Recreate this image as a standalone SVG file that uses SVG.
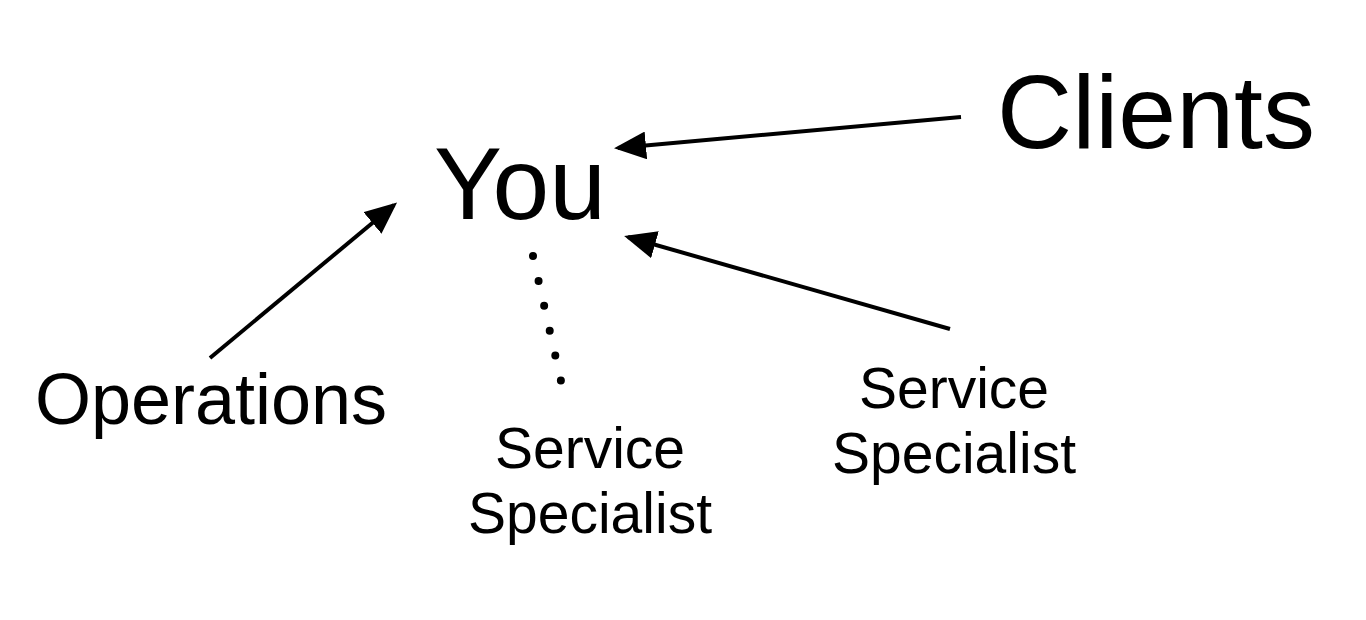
<svg xmlns="http://www.w3.org/2000/svg" width="1366" height="620" viewBox="0 0 1366 620">
<style>
text{font-family:"Liberation Sans",Arial,Helvetica,sans-serif;fill:#000}
.you{font-size:102px}
.cl{font-size:104px}
.mid{font-size:72px}
.sm{font-size:57px}
.arr{stroke:#000;stroke-width:4;fill:none}
.dot{stroke:#000;stroke-width:8;stroke-linecap:round;stroke-dasharray:0 25.5;fill:none}
</style>
<defs>
<marker id="ah" markerWidth="8" markerHeight="7" refX="7" refY="3.5" orient="auto" markerUnits="strokeWidth">
<path d="M0,0 L8,3.5 L0,7 Z" fill="#000"/>
</marker>
</defs>
<rect width="1366" height="620" fill="#fff"/>
<g id="connectors">
<line class="arr" x1="961" y1="117" x2="618" y2="148" marker-end="url(#ah)"/>
<line class="arr" x1="950" y1="329" x2="628" y2="237" marker-end="url(#ah)"/>
<line class="arr" x1="210" y1="358" x2="394" y2="205" marker-end="url(#ah)"/>
<line class="dot" x1="533" y1="256" x2="561" y2="381"/>
</g>
<g id="you"><text class="you" x="520" y="219" text-anchor="middle">You</text></g>
<g id="clients"><text class="cl" x="1156" y="148" text-anchor="middle">Clients</text></g>
<g id="operations"><text class="mid" x="211" y="424" text-anchor="middle">Operations</text></g>
<g id="specialist1"><text class="sm" text-anchor="middle"><tspan x="590" y="468">Service</tspan><tspan x="590" y="533">Specialist</tspan></text></g>
<g id="specialist2"><text class="sm" text-anchor="middle"><tspan x="954" y="408">Service</tspan><tspan x="954" y="473">Specialist</tspan></text></g>
</svg>
